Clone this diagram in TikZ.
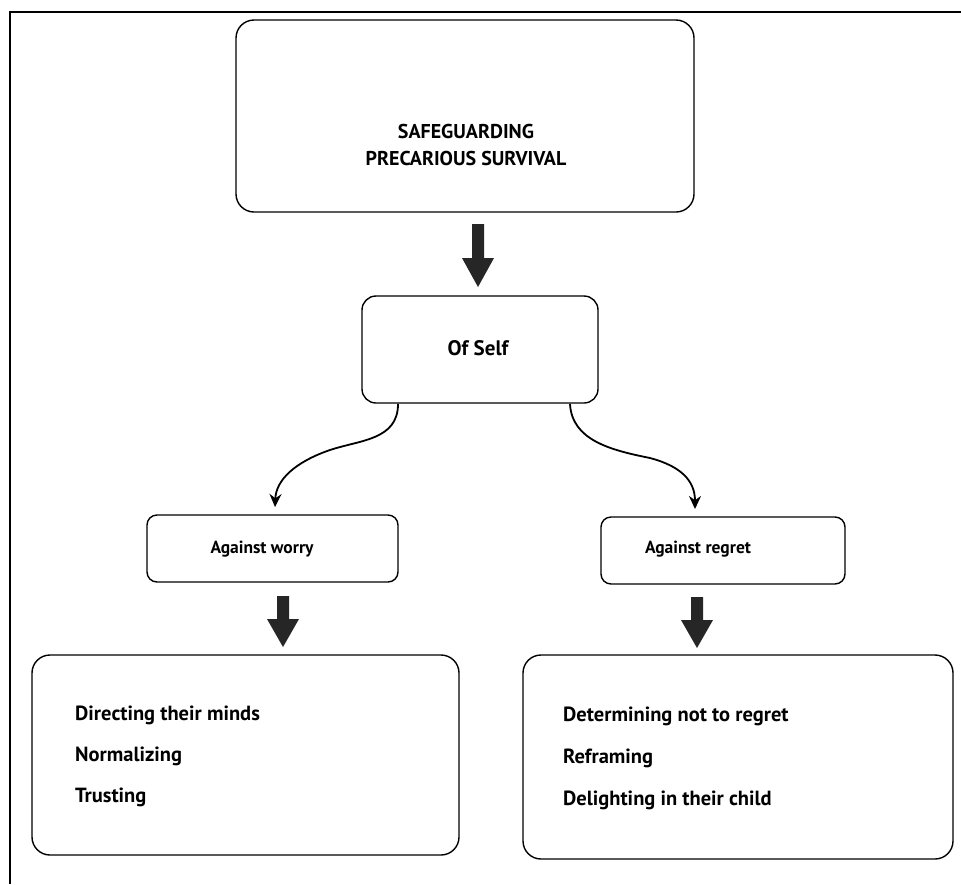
\documentclass[tikz,border=0pt]{standalone}
\usepackage{fontspec}
\setmainfont{PT Sans}
\usetikzlibrary{arrows.meta}
\begin{document}
\begin{tikzpicture}[x=1pt,y=-1pt,
  box/.style={draw=black,line width=1.4pt,rounded corners=18pt},
  lbl/.style={font=\bfseries\fontsize{20.5}{24}\selectfont,anchor=west,inner sep=0pt},
  mid/.style={font=\bfseries\fontsize{17.5}{21}\selectfont},
  bigarrow/.style={fill=black!85,draw=none},
  curved/.style={line width=1.8pt,-{Stealth[length=13pt,width=12pt]}}]
\useasboundingbox (0,0) rectangle (961,884);
\fill[white] (0,0) rectangle (961,884);
% outer frame (only top and left visible)
\coordinate (fr1) at (10,884);
\coordinate (fr2) at (10,12);
\coordinate (fr3) at (961,12);
\draw[line width=1.4pt] (fr1) -- (fr2) -- (fr3);
% boxes
\draw[box] (236,20) rectangle (694,212);
\node[font=\bfseries\fontsize{20}{27}\selectfont,align=center] (top) at (466,145) {SAFEGUARDING\\PRECARIOUS SURVIVAL};
\draw[box,rounded corners=14pt] (362,296) rectangle (598,403);
\node[font=\bfseries\fontsize{21}{24}\selectfont] (self) at (478,348) {Of Self};
\coordinate (selfL) at (398,404);
\coordinate (selfR) at (570,404);
\draw[box,rounded corners=10pt] (147,515) rectangle (398,582);
\node[mid] (worry) at (262,549) {Against worry};
\draw[box,rounded corners=10pt] (601,517) rectangle (845,584);
\node[mid] (regret) at (698,549) {Against regret};
\coordinate (worryT) at (275,507);
\coordinate (regretT) at (695,509);
\draw[box] (32,655) rectangle (459,855);
\node[lbl] (d1) at (75,715) {Directing their minds};
\node[lbl] (d2) at (75,756) {Normalizing};
\node[lbl] (d3) at (75,797) {Trusting};
\draw[box] (523,655) rectangle (953,859);
\node[lbl] (r1) at (563,716) {Determining not to regret};
\node[lbl] (r2) at (563,758) {Reframing};
\node[lbl] (r3) at (563,800) {Delighting in their child};
% thick arrows
\fill[bigarrow] (472,224) -- (484,224) -- (484,258) -- (494,258) -- (478,287) -- (462,258) -- (472,258) -- cycle;
\fill[bigarrow] (277,596) -- (289,596) -- (289,619) -- (299,619) -- (283,647) -- (267,619) -- (277,619) -- cycle;
\fill[bigarrow] (691,597) -- (703,597) -- (703,620) -- (713,620) -- (697,648) -- (681,620) -- (691,620) -- cycle;
% curved arrows
\draw[curved] (selfL) .. controls (398,440) and (360,440) .. (330,450) .. controls (295,462) and (276,480) .. (worryT);
\draw[curved] (selfR) .. controls (572,440) and (610,450) .. (650,458) .. controls (680,466) and (695,480) .. (regretT);
\end{tikzpicture}
\end{document}
